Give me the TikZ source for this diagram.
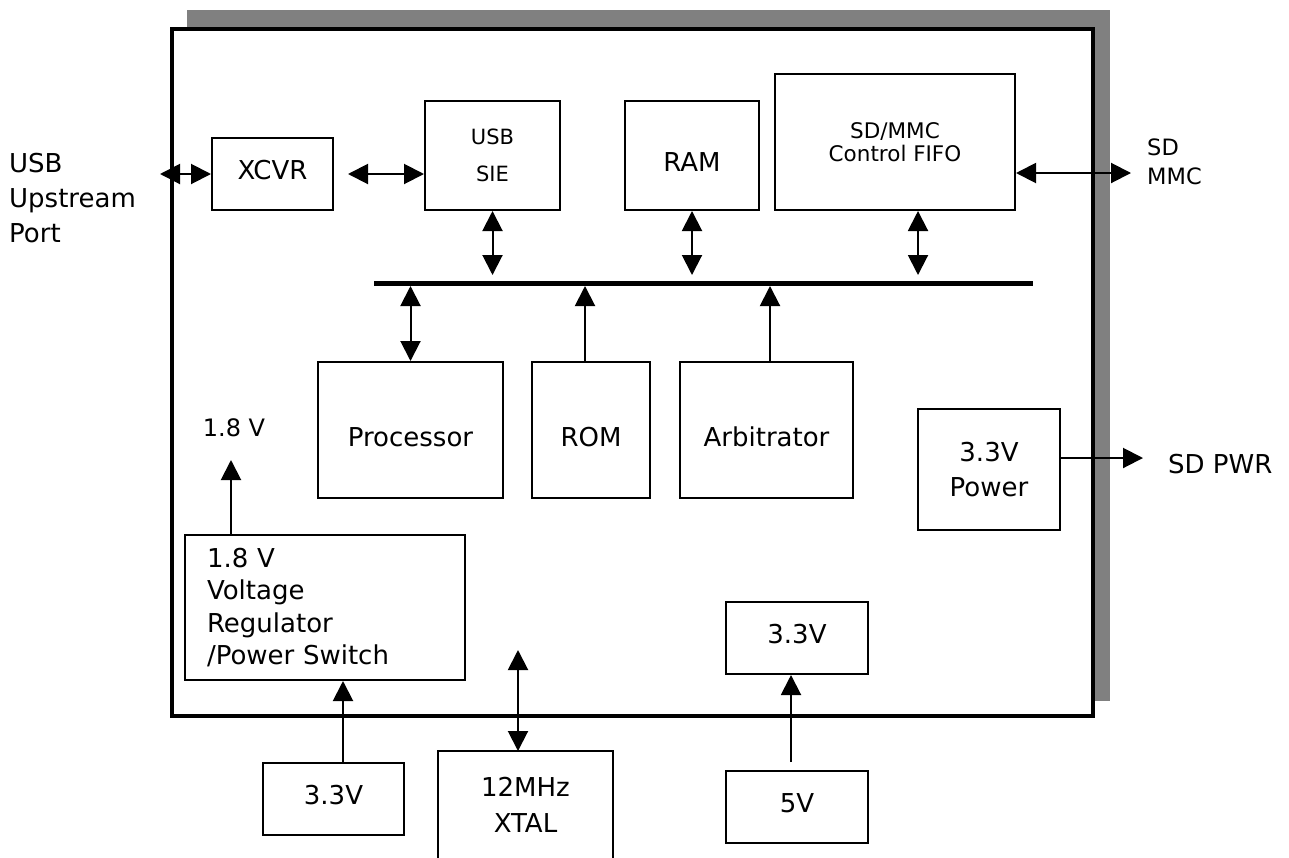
\documentclass[tikz,border=0pt]{standalone}
\usepackage{fontspec}
\setmainfont{DejaVu Sans}
\usetikzlibrary{arrows.meta}
\definecolor{shadowgray}{RGB}{128,128,128}
\begin{document}
\begin{tikzpicture}[x=1pt,y=-1pt,
  blk/.style={draw, line width=2pt, inner sep=0pt, align=center, font=\fontsize{26}{35}\selectfont},
  lbl/.style={inner sep=0pt, align=left, font=\fontsize{26}{35}\selectfont},
  dbl/.style={line width=2pt, {Triangle[length=20pt,width=20pt]}-{Triangle[length=20pt,width=20pt]}},
  sgl/.style={line width=2pt, -{Triangle[length=20pt,width=20pt]}},
]
\useasboundingbox (0,0) rectangle (1289,857);
% shadow and chip outline
\node[fill=shadowgray, inner sep=0pt, minimum width=923, minimum height=691] (shadow) at (648.5,355.5) {};
\node[draw, fill=white, line width=3.5pt, inner sep=0pt, minimum width=921, minimum height=687] (chip) at (632.5,372.5) {};
% blocks
\node[blk, minimum width=121, minimum height=72, text height=11.6pt, text depth=0pt] (xcvr) at (272.5,174) {XCVR};
\node[blk, minimum width=135, minimum height=109, font=\fontsize{21}{37.5}\selectfont] (sie) at (492.5,155.5) {USB\\SIE};
\node[blk, minimum width=134, minimum height=109, text height=31pt, text depth=0pt] (ram) at (692,155.5) {RAM};
\node[blk, minimum width=240, minimum height=136, font=\fontsize{21.5}{23}\selectfont] (sdmmc) at (895,142) {SD/MMC\\Control FIFO};
\node[blk, minimum width=185, minimum height=136, text height=33pt, text depth=0pt] (proc) at (410.5,430) {Processor};
\node[blk, minimum width=118, minimum height=136, text height=33pt, text depth=0pt] (rom) at (591,430) {ROM};
\node[blk, minimum width=173, minimum height=136, text height=33pt, text depth=0pt] (arb) at (766.5,430) {Arbitrator};
\node[blk, minimum width=142, minimum height=121] (pwr) at (989,469.5) {3.3V\\Power};
\node[blk, minimum width=280, minimum height=145, align=left, text width=236, inner xsep=22pt, font=\fontsize{26}{32.5}\selectfont] (reg) at (325,607.5) {1.8 V\\Voltage\\Regulator\\/Power Switch};
\node[blk, minimum width=141, minimum height=72, text height=11pt, text depth=0pt] (v33a) at (333.5,799) {3.3V};
\node[blk, draw=none, minimum width=173, minimum height=105, font=\fontsize{26}{36}\selectfont] (xtal) at (525.5,804.5) {12MHz\\XTAL};
\draw[line width=2pt] (xtal.south west) -- (xtal.north west) -- (xtal.north east) -- (xtal.south east);
\node[blk, minimum width=142, minimum height=72, text height=11pt, text depth=0pt] (v33b) at (797,638) {3.3V};
\node[blk, minimum width=142, minimum height=72, text height=10pt, text depth=0pt] (v5) at (797,807) {5V};
% outside labels
\node[lbl, anchor=west] (usbport) at (9,198) {USB\\Upstream\\Port};
\node[lbl, anchor=west, font=\fontsize{22.5}{29}\selectfont] (sdlbl) at (1147,162) {SD\\MMC};
\node[lbl, font=\fontsize{24}{26}\selectfont] (v18) at (234,427.5) {1.8 V};
\node[lbl, anchor=west] (sdpwr) at (1168,464.5) {SD PWR};
% bus
\coordinate (busL) at (374,283.5);
\coordinate (busR) at (1033,283.5);
\draw[line width=5.5pt] (busL) -- (busR);
% connectors
\coordinate (usbend) at (160,174);
\draw[dbl] (usbend) -- (xcvr.west);
\draw[dbl] ([xshift=14pt]xcvr.east) -- (xcvr.east -| sie.west);
\draw[dbl, shorten >=8.5pt] (sie.south) -- (sie.south |- busL);
\draw[dbl, shorten >=8.5pt] (ram.south) -- (ram.south |- busL);
\coordinate (sdb) at ([xshift=23pt]sdmmc.south);
\draw[dbl, shorten >=8.5pt] (sdb) -- (sdb |- busL);
\coordinate (sdend) at (1131,173);
\draw[dbl] (sdmmc.east |- sdend) -- (sdend);
\draw[dbl, shorten >=2.5pt] (proc.north) -- (proc.north |- busL);
\coordinate (romt) at ([xshift=-6pt]rom.north);
\draw[sgl, shorten >=2.5pt] (romt) -- (romt |- busL);
\coordinate (arbt) at ([xshift=3.5pt]arb.north);
\draw[sgl, shorten >=2.5pt] (arbt) -- (arbt |- busL);
\coordinate (t18) at (231,460);
\draw[sgl] (t18 |- reg.north) -- (t18);
\coordinate (v33at) at ([xshift=9.5pt]v33a.north);
\draw[sgl] (v33at) -- (v33at |- reg.south);
\coordinate (xtalt) at (518,650);
\draw[dbl] (xtalt) -- (xtalt |- xtal.north);
\coordinate (v5t) at ([xshift=-6pt,yshift=8pt]v5.north);
\draw[sgl] (v5t) -- (v5t |- v33b.south);
\coordinate (pwrend) at (1143,458);
\draw[sgl] (pwr.east |- pwrend) -- (pwrend);
\end{tikzpicture}
\end{document}
